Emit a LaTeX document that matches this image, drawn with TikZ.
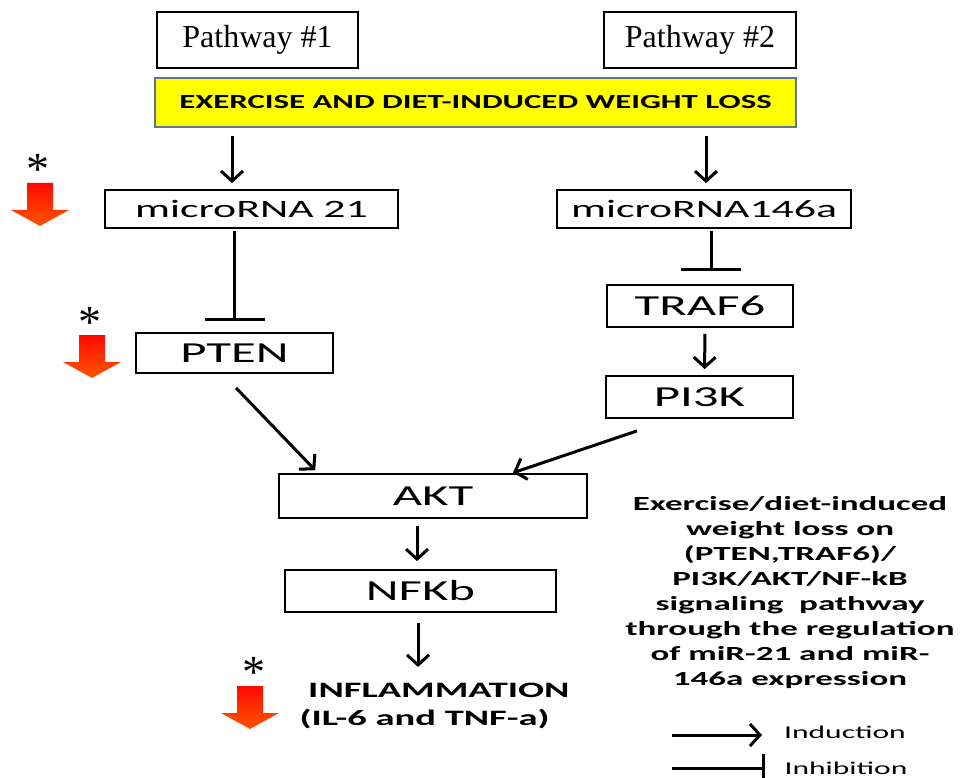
\documentclass[tikz,border=0pt]{standalone}
\usepackage{fontspec}
\setmainfont{Liberation Serif}
\newfontfamily\calib{Carlito}
\usepackage{graphicx}
\usetikzlibrary{arrows.meta, positioning, calc}

\definecolor{lossyellow}{RGB}{255, 255, 0}
\definecolor{lossedge}{RGB}{95, 115, 150}
\definecolor{downred}{RGB}{255, 10, 0}
\definecolor{downorange}{RGB}{255, 85, 0}

% the sans labels of the figure are stretched sideways
\newcommand{\wide}[1]{\scalebox{1.75}[1]{#1}}
% red "decreased" arrow, #1 = top centre
\newcommand{\decrease}[1]{%
  \shade[top color=downred, bottom color=downorange]
    (#1) ++(-13,0) -- ++(26,0) -- ++(0,27) -- ++(16,0) -- ++(-29,16)
    -- ++(-29,-16) -- ++(16,0) -- cycle;}

\begin{document}
\begin{tikzpicture}[x=1pt, y=-1pt,
  box/.style={draw, line width=1.8pt, inner sep=0pt, font=\calib\fontsize{29}{30}\selectfont},
  pathbox/.style={draw, line width=1.6pt, minimum height=56, font=\fontsize{32}{34}\selectfont},
  induce/.style={line width=3pt, -{Straight Barb[length=10pt, width=22pt]}},
  inhibit/.style={line width=3pt, -{Bar[width=60pt]}},
  star/.style={font=\fontsize{46}{46}\selectfont, inner sep=0pt},
]
\useasboundingbox (0,0) rectangle (966,778);

% Pathway headers
\node[pathbox, minimum width=201] (path1) at (257.5,40) {Pathway \#1};
\node[pathbox, minimum width=192] (path2) at (700,40) {Pathway \#2};

% Common trigger
\node[draw=lossedge, fill=lossyellow, line width=1.6pt, minimum width=641, minimum height=49,
      font=\calib\bfseries\fontsize{20}{21}\selectfont] (loss) at (475.5,102.5)
     {\scalebox{1.64}[1]{EXERCISE AND DIET-INDUCED WEIGHT LOSS}};

% Pathway #1
\node[box, minimum width=293, minimum height=38, font=\calib\fontsize{25}{26}\selectfont]
     (mir21) at (251.5,209) {\wide{microRNA 21}};
\node[box, minimum width=197, minimum height=40] (pten) at (234.5,353) {\wide{PTEN}};

% Pathway #2
\node[box, minimum width=294, minimum height=38, font=\calib\fontsize{25}{26}\selectfont]
     (mir146) at (704,209) {\wide{microRNA146a}};
\node[box, minimum width=186, minimum height=42] (traf6) at (700,306) {\wide{TRAF6}};
\node[box, minimum width=187, minimum height=42] (pi3k) at (699.5,397) {\wide{PI3K}};

% Shared part
\node[box, minimum width=308, minimum height=44] (akt) at (433,496) {\wide{AKT}};
\node[box, minimum width=271, minimum height=42] (nfkb) at (420.5,591) {\wide{NFKb}};
\node[font=\calib\bfseries\fontsize{22}{28}\selectfont, align=left, inner sep=0pt]
     (inflam) at (434.5,706) {\wide{\ INFLAMMATION}\\\wide{(IL-6 and TNF-a)}};

% Connectors
\draw[induce, shorten <=8pt, shorten >=6pt] ([xshift=-19.5pt]mir21.north |- loss.south) -- ([xshift=-19.5pt]mir21.north);
\draw[induce, shorten <=8pt, shorten >=6pt] ([xshift=2pt]mir146.north |- loss.south) -- ([xshift=2pt]mir146.north);
\draw[inhibit, shorten <=2pt, shorten >=11pt] (mir21.south -| pten.north) -- (pten.north);
\draw[inhibit, shorten <=2pt, shorten >=13pt] ([xshift=11pt]traf6.north |- mir146.south) -- ([xshift=11pt]traf6.north);
\draw[induce, shorten <=6pt, shorten >=6pt] ([xshift=5pt]traf6.south) -- ([xshift=5pt]pi3k.north);
\draw[induce, shorten >=4pt] ([xshift=1.5pt, yshift=-14pt]pten.south) -- ([xshift=-115pt]akt.north);
\draw[induce, shorten >=1pt] ([xshift=-62.5pt, yshift=-12pt]pi3k.south) -- ([xshift=79pt]akt.north);
\draw[induce, shorten <=7pt, shorten >=8pt] ([xshift=-3.5pt]nfkb.north |- akt.south) -- ([xshift=-3.5pt]nfkb.north);
\draw[induce, shorten <=10pt, shorten >=16pt] ([xshift=-2.5pt]nfkb.south) -- ([xshift=-2.5pt]nfkb.south |- inflam.north);

% Decrease markers
\node[star] (star1) at (38,169) {*};
\node[star] (star2) at (90,322) {*};
\node[star] (star3) at (254,672) {*};
\decrease{40,183}
\decrease{92,335}
\decrease{250,686}

% Summary
\node[font=\calib\bfseries\fontsize{20}{25}\selectfont, align=center] (note) at (790,593)
{\wide{Exercise/diet-induced}\\
 \wide{weight loss on}\\
 \wide{(PTEN,TRAF6)/}\\
 \wide{PI3K/AKT/NF-kB}\\
 \wide{signaling\ \ pathway}\\
 \wide{through the regulation}\\
 \wide{of miR-21 and miR-}\\
 \wide{146a expression}};

% Legend
\node[font=\calib\fontsize{18}{20}\selectfont] (induction) at (845,732) {\wide{Induction}};
\node[font=\calib\fontsize{18}{20}\selectfont] (inhibition) at (846,768) {\wide{Inhibition}};
\coordinate (ind0) at (672,735);
\coordinate (ind1) at (762,735);
\coordinate (inh0) at (672,768);
\coordinate (inh1) at (765,768);
\draw[induce] (ind0) -- (ind1);
\draw[line width=3pt, -{Bar[width=28pt]}] (inh0) -- (inh1);
\end{tikzpicture}
\end{document}
